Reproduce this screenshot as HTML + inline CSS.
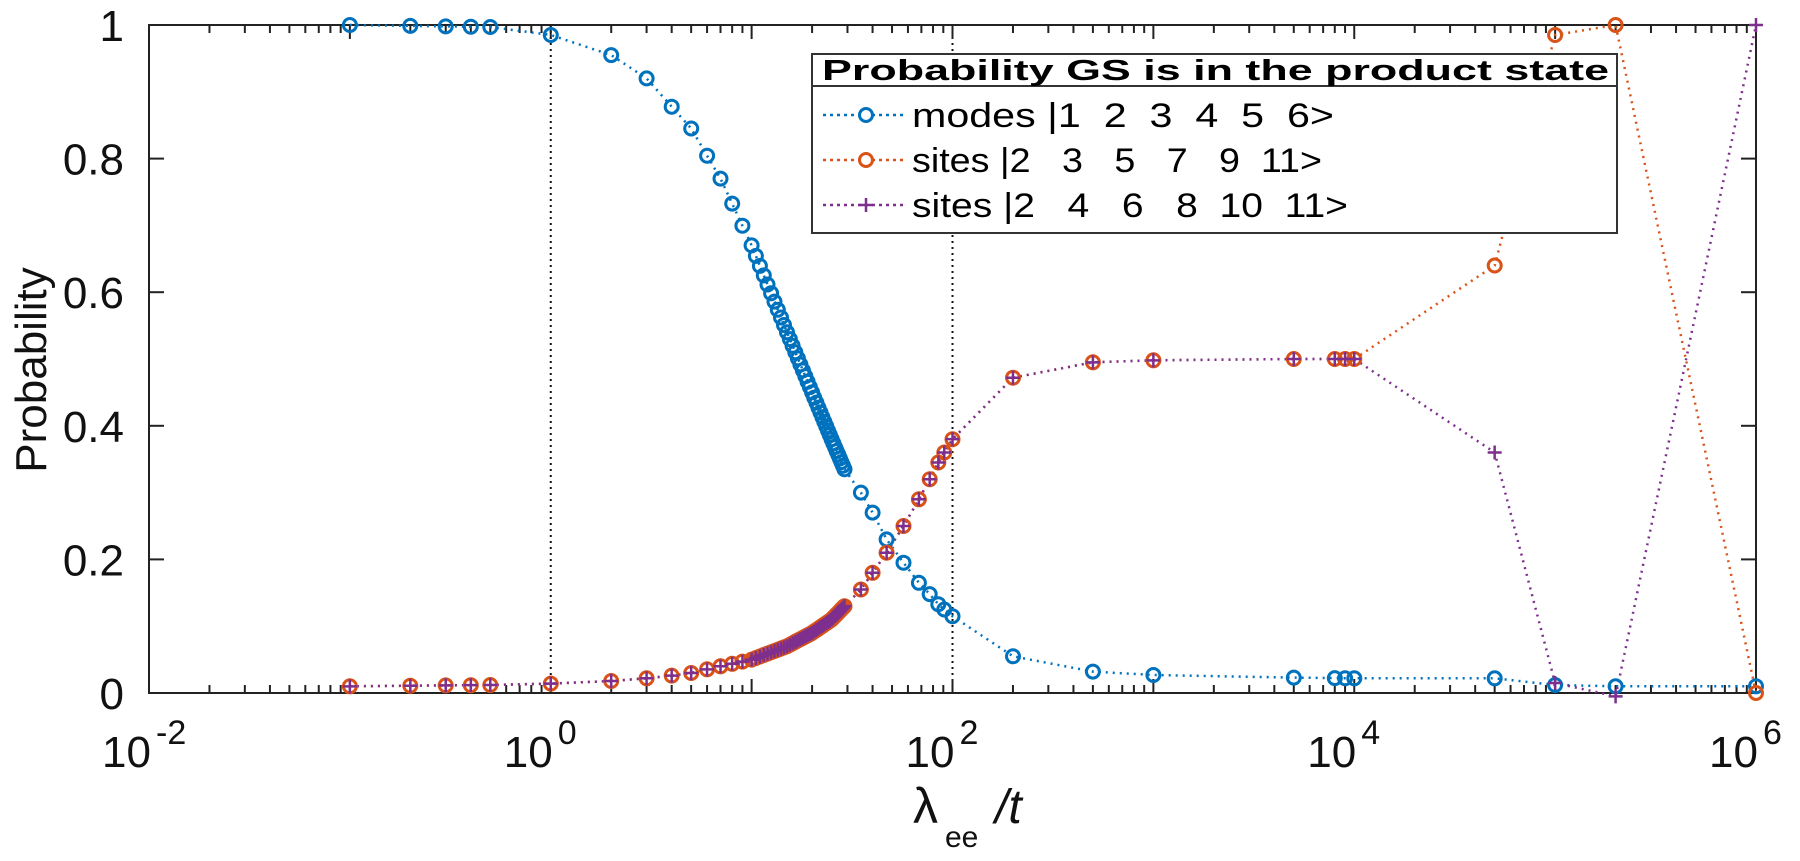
<!DOCTYPE html>
<html><head><meta charset="utf-8"><style>
html,body{margin:0;padding:0;background:#fff;}
svg{display:block;}
text{font-family:"Liberation Sans",sans-serif;white-space:pre;}
</style></head><body>
<svg id="s" width="1800" height="861" viewBox="0 0 1800 861" xmlns="http://www.w3.org/2000/svg">
<rect width="1800" height="861" fill="#fff"/>
<g id="g"></g>
</svg>
<script>
const L=149,R=1756,T=25,B=693,D=(R-L)/8;
const X=v=>L+(Math.log10(v)+2)*D, Y=p=>B-p*(B-T);
let h='';
[1,100].forEach(v=>{h+=`<line x1="${X(v)}" y1="${B}" x2="${X(v)}" y2="${T}" stroke="#111" stroke-width="2" stroke-dasharray="2,4"/>`;});
for(let k=-2;k<6;k++){for(let m=1;m<10;m++){const x=X(m*Math.pow(10,k));const len=m==1?14:8;
h+=`<line x1="${x}" y1="${B}" x2="${x}" y2="${B-len}" stroke="#222" stroke-width="2"/><line x1="${x}" y1="${T}" x2="${x}" y2="${T+len}" stroke="#222" stroke-width="2"/>`;}}
for(let i=0;i<=5;i++){const y=Y(i*0.2);
h+=`<line x1="${L}" y1="${y}" x2="${L+15}" y2="${y}" stroke="#222" stroke-width="2"/><line x1="${R}" y1="${y}" x2="${R-15}" y2="${y}" stroke="#222" stroke-width="2"/>`;
const lab=['0','0.2','0.4','0.6','0.8','1'][i];
h+=`<text x="124" y="${y+16}" font-size="44" text-anchor="end" fill="#111">${lab}</text>`;}
[-2,0,2,4,6].forEach(k=>{const x=X(Math.pow(10,k));
h+=`<text x="${x+2}" y="767" font-size="44" text-anchor="end" fill="#111">10</text><text x="${x+7}" y="744" font-size="34" fill="#111">${k}</text>`;});
h+=`<rect x="${L}" y="${T}" width="${R-L}" height="${B-T}" fill="none" stroke="#222" stroke-width="2"/>`;
h+=`<text transform="translate(46,370) rotate(-90)" font-size="44" text-anchor="middle" fill="#111">Probability</text>`;
h+=`<text x="913" y="823" font-size="50" fill="#111">λ</text><text x="945" y="847" font-size="30" fill="#111">ee</text><text x="995" y="823" font-size="48" font-style="italic" fill="#111">/t</text>`;
function interp(kn,x){const lx=Math.log10(x);for(let i=0;i<kn.length-1;i++){const a=Math.log10(kn[i][0]),b=Math.log10(kn[i+1][0]);if(lx>=a-1e-9&&lx<=b+1e-9){const t=(lx-a)/(b-a);return kn[i][1]+t*(kn[i+1][1]-kn[i][1]);}}return kn[kn.length-1][1];}
const xs=[0.1,0.2,0.3,0.4,0.5,1,2,3,4,5,6,7,8,9];
for(let v=10;v<=29.001;v+=0.5)xs.push(v);
xs.push(35,40,47,57,68,77,85,91,100,200,500,1000,5000,8000,9000,10000,5e4,1e5,2e5,1e6);
const mk=[[0.1,1],[0.5,0.997],[1,0.985],[2,0.955],[3,0.92],[5,0.845],[7,0.77],[10,0.67],[15,0.54],[20,0.45],[25,0.38],[29,0.335],[35,0.30],[40,0.27],[47,0.23],[57,0.195],[68,0.165],[77,0.148],[85,0.133],[91,0.125],[100,0.115],[200,0.055],[500,0.032],[1000,0.027],[5000,0.023],[1e4,0.022],[5e4,0.022],[1e5,0.012],[2e5,0.01],[1e6,0.01]];
const sk=[[0.1,0.01],[0.5,0.012],[1,0.014],[2,0.018],[3,0.022],[4,0.026],[5,0.03],[7,0.04],[10,0.05],[15,0.07],[20,0.09],[25,0.11],[29,0.13],[35,0.155],[40,0.18],[47,0.21],[57,0.25],[68,0.29],[77,0.32],[85,0.345],[91,0.36],[100,0.38],[200,0.472],[500,0.495],[1000,0.498],[5000,0.5],[1e4,0.5]];
const modes=xs.map(x=>[x,interp(mk,x)]);
const base=xs.filter(x=>x<=1e4).map(x=>[x,interp(sk,x)]);
const orange=base.concat([[5e4,0.64],[1e5,0.985],[2e5,1.0],[1e6,0.0]]);
const purple=base.concat([[5e4,0.36],[1e5,0.015],[2e5,-0.005],[1e6,1.0]]);
function line(d,c){return `<polyline points="${d.map(p=>X(p[0]).toFixed(1)+','+Y(p[1]).toFixed(1)).join(' ')}" fill="none" stroke="${c}" stroke-width="2.5" stroke-dasharray="2,5"/>`;}
function circ(d,c){return d.map(p=>`<circle cx="${X(p[0]).toFixed(1)}" cy="${Y(p[1]).toFixed(1)}" r="6.5" fill="none" stroke="${c}" stroke-width="3"/>`).join('');}
function plus(d,c){return d.map(p=>{const x=X(p[0]),y=Y(p[1]);return `<path d="M${x-7},${y}H${x+7}M${x},${y-7}V${y+7}" stroke="${c}" stroke-width="2.5"/>`;}).join('');}
h+=line(modes,'#0072BD')+line(orange,'#D95319')+line(purple,'#7E2F8E');
h+=circ(modes,'#0072BD')+circ(orange,'#D95319')+plus(purple,'#7E2F8E');
// legend
h+=`<rect x="812" y="54" width="805" height="179" fill="#fff" stroke="#333" stroke-width="2"/><line x1="812" y1="86" x2="1617" y2="86" stroke="#333" stroke-width="2"/>`;
h+=`<text x="822" y="80" font-size="29" font-weight="bold" fill="#000" textLength="787" lengthAdjust="spacingAndGlyphs">Probability GS is in the product state</text>`;
const rows=[['#0072BD','modes |1  2  3  4  5  6>','c',422],['#D95319','sites |2   3   5   7   9  11>','c',410],['#7E2F8E','sites |2   4   6   8  10  11>','p',436]];
rows.forEach((r,i)=>{const cy=115+i*45;
h+=`<line x1="823" y1="${cy}" x2="906" y2="${cy}" stroke="${r[0]}" stroke-width="2.5" stroke-dasharray="3,4"/>`;
h+=r[2]=='c'?`<circle cx="866" cy="${cy}" r="6.5" fill="#fff" stroke="${r[0]}" stroke-width="3"/>`:`<path d="M859,${cy}H873M866,${cy-7}V${cy+7}" stroke="${r[0]}" stroke-width="2.5"/>`;
h+=`<text x="912" y="${cy+12}" font-size="34" fill="#000" textLength="${r[3]}" lengthAdjust="spacingAndGlyphs">${r[1]}</text>`;});
document.getElementById('g').innerHTML=h;
</script>
</body></html>
